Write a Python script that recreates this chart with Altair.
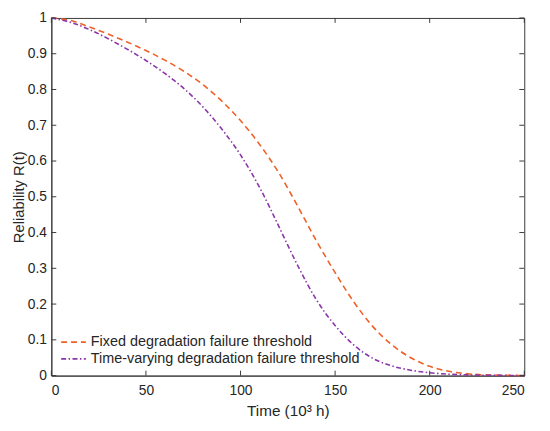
import altair as alt
import pandas as pd

t = [0, 10, 20, 30, 40, 50, 60, 70, 80, 90, 100, 110, 120, 130, 140, 150,
     160, 170, 180, 190, 200, 210, 220, 230, 240, 250]
fixed = [1.0, 0.993, 0.975, 0.955, 0.933, 0.909, 0.882, 0.851, 0.814, 0.768,
         0.713, 0.647, 0.569, 0.476, 0.378, 0.288, 0.205, 0.137, 0.086, 0.050,
         0.026, 0.012, 0.005, 0.002, 0.0008, 0.0003]
varying = [1.0, 0.988, 0.968, 0.942, 0.913, 0.881, 0.845, 0.803, 0.752, 0.690,
           0.617, 0.527, 0.420, 0.310, 0.213, 0.140, 0.085, 0.048, 0.027, 0.015,
           0.008, 0.004, 0.002, 0.001, 0.0005, 0.0002]
series_names = ["Fixed degradation failure threshold",
                "Time-varying degradation failure threshold"]
x_ticks = [0, 50, 100, 150, 200, 250]
y_ticks = [0, 0.1, 0.2, 0.3, 0.4, 0.5, 0.6, 0.7, 0.8, 0.9, 1.0]

W, H = 480, 363
FONT = "Liberation Sans"
AX = "#3a3a3a"
TXT = "#262626"
ORANGE = "#EE6027"
PURPLE = "#8A35A8"

df_f = pd.DataFrame({"t": t, "R": fixed})
df_v = pd.DataFrame({"t": t, "R": varying})
df_xt = pd.DataFrame({"t": x_ticks})
df_yt = pd.DataFrame({"R": y_ticks})

xs = alt.Scale(domain=[0, 250], nice=False, zero=False)
ys = alt.Scale(domain=[0, 1], nice=False, zero=False)

label_expr = "datum.value == 1 ? '1' : datum.value == 0 ? '0' : format(datum.value, '.1f')"

x_axis = alt.Axis(values=x_ticks, tickSize=0, labelPadding=8, grid=False,
                  labelOverlap=False,
                  title="Time (10³ h)", titlePadding=7, labelFontSize=14,
                  titleFontSize=15.5, labelFont=FONT, titleFont=FONT,
                  labelColor=TXT, titleColor=TXT, domainColor=AX,
                  titleFontWeight="normal")
y_axis = alt.Axis(values=y_ticks, tickSize=0, labelPadding=5, grid=False,
                  labelOverlap=False,
                  title="Reliability R(t)", titlePadding=1, labelFontSize=14,
                  titleFontSize=15, labelFont=FONT, titleFont=FONT,
                  labelColor=TXT, titleColor=TXT, domainColor=AX,
                  titleFontWeight="normal", labelExpr=label_expr)

X = alt.X("t:Q", scale=xs, axis=x_axis)
Y = alt.Y("R:Q", scale=ys, axis=y_axis)

line_f = alt.Chart(df_f).mark_line(color=ORANGE, strokeWidth=1.6,
                                   strokeDash=[6, 4], interpolate="monotone").encode(x=X, y=Y)
line_v = alt.Chart(df_v).mark_line(color=PURPLE, strokeWidth=1.6,
                                   strokeDash=[5, 2.5, 1.5, 2.5], interpolate="monotone").encode(x=X, y=Y)

tl = 5
xt_bottom = alt.Chart(df_xt).mark_rule(color=AX, strokeWidth=1).encode(
    x=X, y=alt.value(H), y2=alt.value(H - tl))
xt_top = alt.Chart(df_xt).mark_rule(color=AX, strokeWidth=1).encode(
    x=X, y=alt.value(0), y2=alt.value(tl))
yt_left = alt.Chart(df_yt).mark_rule(color=AX, strokeWidth=1).encode(
    y=Y, x=alt.value(0), x2=alt.value(tl))
yt_right = alt.Chart(df_yt).mark_rule(color=AX, strokeWidth=1).encode(
    y=Y, x=alt.value(W), x2=alt.value(W - tl))

# legend (inside, lower-left, no box)
leg_y1, leg_y2 = 329, 346
lx0, lx1, ltx = 10, 35, 40
leg_l1 = alt.Chart(pd.DataFrame({"n": [series_names[0]]})).mark_rule(
    color=ORANGE, strokeWidth=1.6, strokeDash=[6, 4]).encode(
    x=alt.value(lx0), x2=alt.value(lx1), y=alt.value(leg_y1))
leg_l2 = alt.Chart(pd.DataFrame({"n": [series_names[1]]})).mark_rule(
    color=PURPLE, strokeWidth=1.6, strokeDash=[5, 2.5, 1.5, 2.5]).encode(
    x=alt.value(lx0), x2=alt.value(lx1), y=alt.value(leg_y2))
leg_t1 = alt.Chart(pd.DataFrame({"n": [series_names[0]]})).mark_text(
    align="left", baseline="middle", font=FONT, fontSize=14.6, color=TXT).encode(
    x=alt.value(ltx), y=alt.value(leg_y1), text="n:N")
leg_t2 = alt.Chart(pd.DataFrame({"n": [series_names[1]]})).mark_text(
    align="left", baseline="middle", font=FONT, fontSize=14.6, color=TXT).encode(
    x=alt.value(ltx), y=alt.value(leg_y2), text="n:N")

chart = alt.layer(
    line_f, line_v, xt_bottom, xt_top, yt_left, yt_right,
    leg_l1, leg_l2, leg_t1, leg_t2
).properties(
    width=W, height=H,
    autosize=alt.AutoSizeParams(type="none"),
    padding={"left": 44, "top": 7, "right": 18, "bottom": 45},
    background="white",
).configure_view(
    stroke=AX, strokeWidth=1
)

chart.save("out.html", embed_options={"renderer": "svg", "actions": False})
